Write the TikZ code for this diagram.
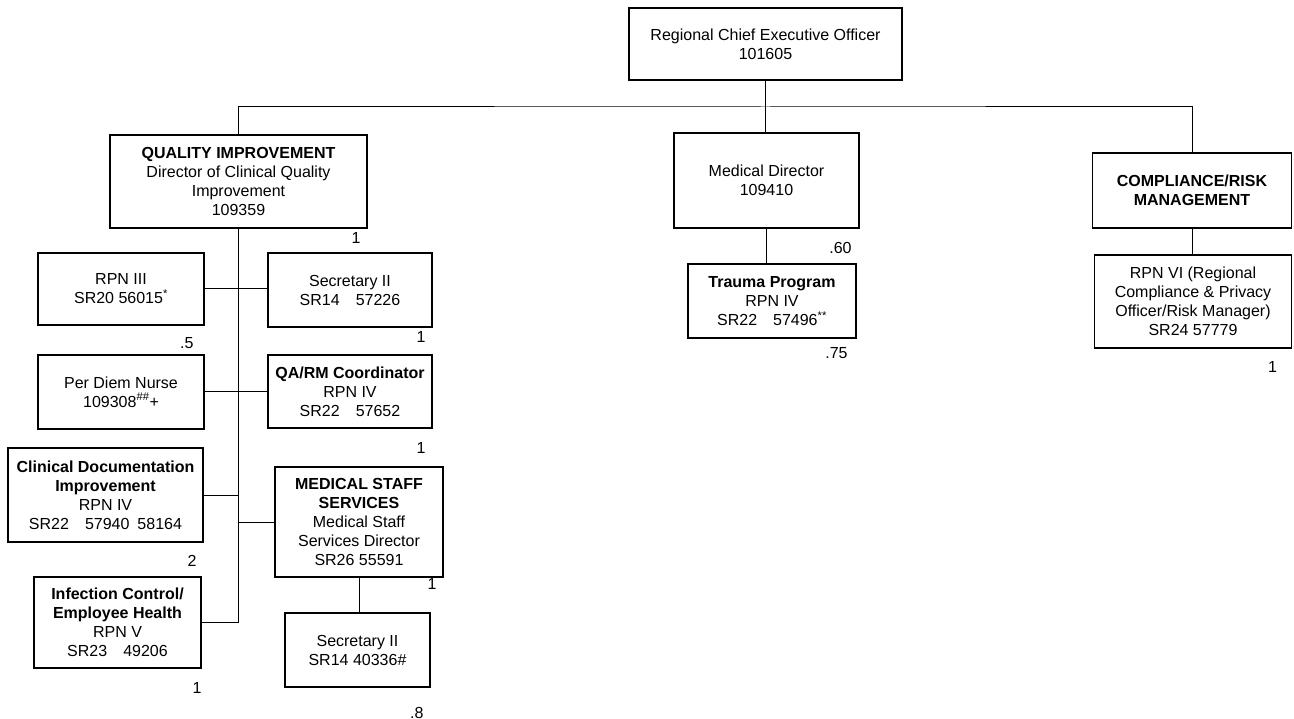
\documentclass[tikz,border=0pt]{standalone}
\usepackage{fontspec}
\setmainfont{Liberation Sans}
\usetikzlibrary{positioning}

\begin{document}
\begin{tikzpicture}[
        x=1pt, y=1pt,
        box/.style={rectangle, draw, line width=1.5pt, inner sep=0pt,
                    align=center, font=\fontsize{16}{19}\selectfont},
        fte/.style={inner sep=0pt, font=\fontsize{16}{19}\selectfont},
        link/.style={line width=1pt}
    ]
    \useasboundingbox (0,0) rectangle (1294,-719);

    %% TOP: CEO and the three departments
    \node[box, minimum width=273pt, minimum height=72pt] (ceo) at (765.5,-44)
          {Regional Chief Executive Officer\\101605};
    \node[box, minimum width=257pt, minimum height=93pt] (qi) at (238.5,-181.5)
          {\textbf{QUALITY IMPROVEMENT}\\Director of Clinical Quality\\Improvement\\109359};
    \node[box, minimum width=185pt, minimum height=95pt] (md) at (766.5,-180.5)
          {Medical Director\\109410};
    \node[box, minimum width=199pt, minimum height=75pt] (crm) at (1192,-190.5)
          {\textbf{COMPLIANCE/RISK}\\\textbf{MANAGEMENT}};

    \coordinate (bus) at (766,-107);
    \draw[link] (ceo.south) -- (ceo.south |- md.north);
    \draw[link] (qi.north) |- (bus) -| (crm.north);

    %% QUALITY IMPROVEMENT: left column
    \node[box, minimum width=166pt, minimum height=72pt] (rpn3) at (121,-289)
          {RPN III\\SR20 56015\textsuperscript{*}};
    \node[box, minimum width=166pt, minimum height=74pt] (pdn) at (121,-392)
          {Per Diem Nurse\\109308\textsuperscript{\#\#}+};
    \node[box, minimum width=195pt, minimum height=94pt] (cdi) at (105.5,-495)
          {\textbf{Clinical Documentation}\\\textbf{Improvement}\\RPN IV\\SR22\quad 57940\enspace 58164};
    \node[box, minimum width=167pt, minimum height=91pt] (icn) at (117.5,-622.5)
          {\textbf{Infection Control/}\\\textbf{Employee Health}\\RPN V\\SR23\quad 49206};

    %% QUALITY IMPROVEMENT: right column
    \node[box, minimum width=164pt, minimum height=74pt] (sec1) at (350,-290)
          {Secretary II\\SR14\quad 57226};
    \node[box, minimum width=164pt, minimum height=73pt] (qarm) at (350,-391.5)
          {\textbf{QA/RM Coordinator}\\RPN IV\\SR22\quad 57652};
    \node[box, minimum width=168pt, minimum height=110pt] (mss) at (359,-522)
          {\textbf{MEDICAL STAFF}\\\textbf{SERVICES}\\Medical Staff\\Services Director\\SR26 55591};
    \node[box, minimum width=145pt, minimum height=74pt] (sec2) at (357.5,-650)
          {Secretary II\\SR14 40336\#};

    \draw[link] (qi.south) -- (qi.south |- icn.east);
    \draw[link] (rpn3.east) -- (rpn3.east -| sec1.west);
    \draw[link] (pdn.east) -- (pdn.east -| qarm.west);
    \draw[link] (cdi.east) -- (cdi.east -| qi.south);
    \draw[link] (icn.east) -- (icn.east -| qi.south);
    \draw[link] (mss.west) -- (mss.west -| qi.south);
    \draw[link] (mss.south) -- (mss.south |- sec2.north);

    %% MEDICAL DIRECTOR
    \node[box, minimum width=168pt, minimum height=74pt] (trauma) at (772,-301)
          {\textbf{Trauma Program}\\RPN IV\\SR22\quad 57496\textsuperscript{**}};
    \draw[link] (md.south) -- (md.south |- trauma.north);

    %% COMPLIANCE/RISK
    \node[box, minimum width=197pt, minimum height=93pt] (rpn6) at (1193,-301.5)
          {RPN VI (Regional\\Compliance \& Privacy\\Officer/Risk Manager)\\SR24 57779};
    \draw[link] (crm.south) -- (crm.south |- rpn6.north);

    %% FTE counts
    \node[fte, below left=4pt and 7pt of qi.south east] (qifte) {1};
    \node[fte, below left=12pt and 11pt of rpn3.south east] (rpn3fte) {.5};
    \node[fte, below left=4pt and 7pt of sec1.south east] (sec1fte) {1};
    \node[fte, below left=14pt and 7pt of qarm.south east] (qarmfte) {1};
    \node[fte, below left=12pt and 7pt of cdi.south east] (cdifte) {2};
    \node[fte, below left=1pt and 7pt of mss.south east] (mssfte) {1};
    \node[fte, below left=14pt and 0pt of icn.south east] (icnfte) {1};
    \node[fte, below left=19pt and 7pt of sec2.south east] (sec2fte) {.8};
    \node[fte, below left=13pt and 8pt of md.south east] (mdfte) {.60};
    \node[fte, below left=9pt and 9pt of trauma.south east] (traumafte) {.75};
    \node[fte, below left=13pt and 15pt of rpn6.south east] (rpn6fte) {1};

\end{tikzpicture}
\end{document}
